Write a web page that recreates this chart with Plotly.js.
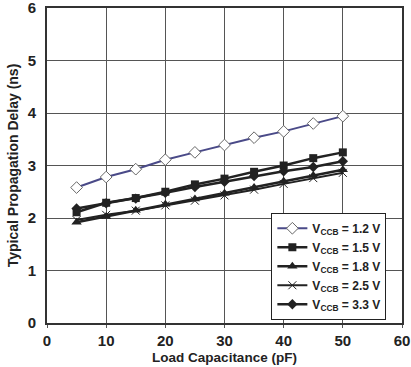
<!DOCTYPE html>
<html>
<head>
<meta charset="utf-8">
<script src="https://cdn.plot.ly/plotly-3.0.1.min.js"></script>
<style>html,body{margin:0;padding:0;background:#fff;}#chart{width:411px;height:367px;}</style>
</head>
<body>
<div id="chart"></div>
<script>
const loadCap = [5, 10, 15, 20, 25, 30, 35, 40, 45, 50];
const v12 = [2.58, 2.78, 2.93, 3.11, 3.25, 3.39, 3.53, 3.65, 3.80, 3.94];
const v15 = [2.11, 2.29, 2.38, 2.50, 2.64, 2.75, 2.88, 3.00, 3.14, 3.25];
const v18 = [1.92, 2.03, 2.15, 2.26, 2.36, 2.47, 2.58, 2.70, 2.81, 2.92];
const v25 = [1.96, 2.06, 2.14, 2.24, 2.33, 2.43, 2.54, 2.65, 2.76, 2.86];
const v33 = [2.18, 2.28, 2.37, 2.48, 2.59, 2.69, 2.80, 2.89, 2.97, 3.08];
const seriesNames = ['V<sub>CCB</sub> = 1.2 V', 'V<sub>CCB</sub> = 1.5 V', 'V<sub>CCB</sub> = 1.8 V', 'V<sub>CCB</sub> = 2.5 V', 'V<sub>CCB</sub> = 3.3 V'];

const dark = '#222222';
const traces = [
  {x: loadCap, y: v12, name: seriesNames[0], mode: 'lines+markers',
   line: {color: '#4a4a88', width: 2},
   marker: {symbol: 'diamond', size: 9, color: '#ffffff', line: {color: '#666666', width: 1}}},
  {x: loadCap, y: v15, name: seriesNames[1], mode: 'lines+markers',
   line: {color: dark, width: 2.5},
   marker: {symbol: 'square', size: 8, color: dark}},
  {x: loadCap, y: v18, name: seriesNames[2], mode: 'lines+markers',
   line: {color: dark, width: 2.5},
   marker: {symbol: 'triangle-up', size: 9, color: dark}},
  {x: loadCap, y: v25, name: seriesNames[3], mode: 'lines+markers',
   line: {color: dark, width: 2},
   marker: {symbol: 'x-thin', size: 8, color: dark, line: {color: dark, width: 1}}},
  {x: loadCap, y: v33, name: seriesNames[4], mode: 'lines+markers',
   line: {color: dark, width: 2.5},
   marker: {symbol: 'diamond', size: 8, color: dark}}
];

const fontFam = 'Liberation Sans, Arial, sans-serif';
const layout = {
  width: 411, height: 367,
  margin: {l: 47, r: 9, t: 8, b: 44},
  paper_bgcolor: '#ffffff', plot_bgcolor: '#ffffff',
  font: {family: fontFam, color: '#222', size: 14},
  showlegend: true,
  legend: {
    x: 0.632, y: 0.35, xanchor: 'left', yanchor: 'top',
    bgcolor: '#ffffff', bordercolor: '#222', borderwidth: 1,
    font: {family: fontFam, size: 12, color: '#222', weight: 'bold'},
    tracegroupgap: 0, itemwidth: 30
  },
  xaxis: {
    range: [0, 60], dtick: 10, tick0: 0,
    showgrid: true, gridcolor: '#555', gridwidth: 1,
    showline: true, linecolor: '#333', linewidth: 2, mirror: true,
    ticks: 'outside', ticklen: 3, tickcolor: '#555',
    zeroline: false, ticklabeloverflow: 'allow',
    tickfont: {family: fontFam, size: 15, color: '#222', weight: 'bold'},
    title: {text: 'Load Capacitance (pF)', standoff: 5,
            font: {family: fontFam, size: 13.5, color: '#222', weight: 'bold'}}
  },
  yaxis: {
    range: [0, 6], dtick: 1, tick0: 0,
    showgrid: true, gridcolor: '#555', gridwidth: 1,
    showline: true, linecolor: '#333', linewidth: 2, mirror: true,
    ticks: '', zeroline: false, ticklabeloverflow: 'allow',
    ticklabelstandoff: 6,
    tickfont: {family: fontFam, size: 15, color: '#222', weight: 'bold'},
    title: {text: 'Typical Propagation Delay (ns)', standoff: 6,
            font: {family: fontFam, size: 14, color: '#222', weight: 'bold'}}
  }
};
Plotly.newPlot('chart', traces, layout, {displayModeBar: false, staticPlot: true});
</script>
</body>
</html>
